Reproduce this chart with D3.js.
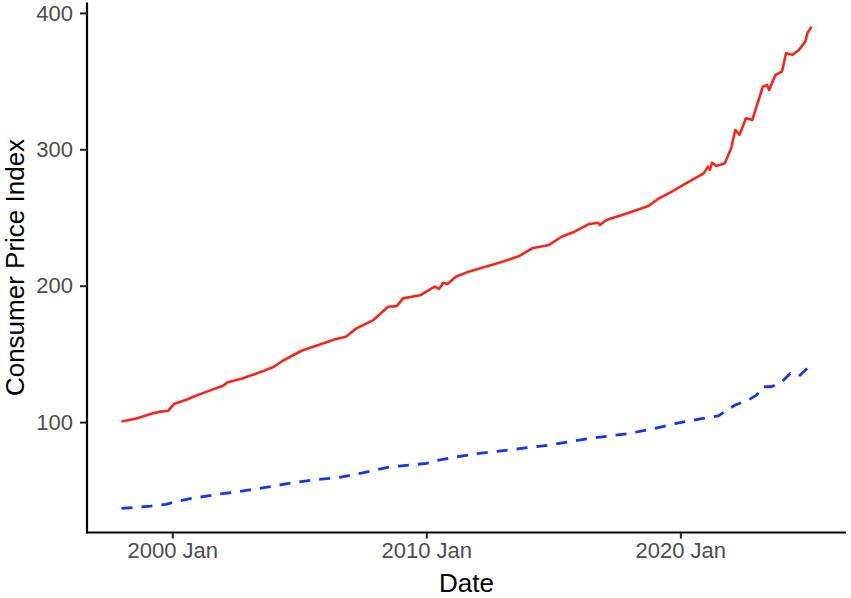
<!DOCTYPE html>
<html>
<head>
<meta charset="utf-8">
<script src="https://cdn.jsdelivr.net/npm/d3@7"></script>
<style>
  body { margin: 0; background: #fff; }
  svg { display: block; }
</style>
</head>
<body>
<svg id="chart" width="851" height="598"></svg>
<script>
// CPI series (month, value)
const redDates = ["1998-01","1998-08","1999-04","1999-07","1999-11","2000-02","2000-07","2000-11","2001-06","2002-01","2002-03","2002-10","2003-08","2004-01","2004-05","2005-02","2005-10","2006-06","2006-11","2007-04","2007-12","2008-07","2008-11","2009-02","2009-10","2010-05","2010-07","2010-09","2010-11","2011-03","2011-09","2012-05","2013-01","2013-09","2014-03","2014-11","2015-05","2015-11","2016-06","2016-10","2016-11","2017-02","2017-08","2018-02","2018-10","2019-03","2019-09","2020-01","2020-08","2020-12","2021-02","2021-03","2021-04","2021-06","2021-10","2022-01","2022-03","2022-05","2022-08","2022-11","2023-04","2023-06","2023-07","2023-10","2024-01","2024-03","2024-06","2024-09","2024-12","2025-01","2025-03"];
const redValues = [100.5,102.7,106.5,107.5,108.3,113.5,116,118.6,122.7,126.6,129,132,137.4,140.6,144.8,152.3,156.5,160.7,162.6,168.7,174.8,184.6,185,190.7,193,199.3,197.6,202.2,201.2,206.6,210.3,213.9,217.6,221.8,227.4,229.9,235.9,239.6,245.3,246.2,244.5,248.2,251.1,254.3,258.5,264.1,269,272.6,278.8,282.4,287.3,284.9,290.2,287.8,289.8,300.8,314.2,310.6,322.8,321.6,346,347.2,343.6,354.6,357,370.5,369.3,372.9,379,385.1,390];

const blueDates = ["1998-01","1999-03","1999-10","2000-02","2000-10","2001-11","2002-08","2003-09","2004-08","2005-07","2006-08","2007-07","2008-08","2008-12","2010-01","2010-07","2011-01","2012-02","2013-10","2014-11","2016-06","2018-01","2019-01","2019-11","2020-11","2021-07","2021-11","2022-03","2022-09","2023-01","2023-04","2023-08","2024-01","2024-05","2024-09","2025-01","2025-03"];
const blueValues = [36.7,38.4,39.6,41.5,44,47.2,48.9,52.1,55,57.4,59.4,62.8,67.2,67.7,69.7,72.1,74,77,80.7,83.1,88,91.7,95.4,99,102.5,104.5,108.8,112.5,116.1,119.8,125.9,125.9,129.6,135.7,133.7,139.4,141.8];

const yTicks = [100, 200, 300, 400];
const xTicks = ["2000-01", "2010-01", "2020-01"];

const parse = d3.timeParse("%Y-%m");
const red = redDates.map((d, i) => ({date: parse(d), value: redValues[i]}));
const blue = blueDates.map((d, i) => ({date: parse(d), value: blueValues[i]}));

const svg = d3.select("#chart");
const mLeft = 87, mRight = 846, mTop = 2.5, mBottom = 532.5;

// ggplot style 5% expansion
const allDates = red.concat(blue).map(d => d.date);
const allVals = redValues.concat(blueValues);
const t0 = d3.min(allDates), t1 = d3.max(allDates);
const span = t1 - t0;
const x = d3.scaleTime()
            .domain([new Date(+t0 - span * 0.05), new Date(+t1 + span * 0.05)])
            .range([mLeft, mRight]);
const v0 = d3.min(allVals), v1 = d3.max(allVals);
const vs = v1 - v0;
const y = d3.scaleLinear()
            .domain([v0 - vs * 0.05, v1 + vs * 0.05])
            .range([mBottom, mTop]);

const line = d3.line().x(d => x(d.date)).y(d => y(d.value));

svg.append("path").datum(red)
   .attr("d", line)
   .attr("fill", "none")
   .attr("stroke", "#f7261b")
   .attr("stroke-width", 2.6)
   .attr("stroke-linejoin", "round");

svg.append("path").datum(blue)
   .attr("d", line)
   .attr("fill", "none")
   .attr("stroke", "#1436ee")
   .attr("stroke-width", 2.8)
   .attr("stroke-dasharray", "11,9")
   .attr("stroke-linejoin", "round");

// axes
const xAxis = d3.axisBottom(x)
                .tickValues(xTicks.map(parse))
                .tickFormat(d3.timeFormat("%Y %b"))
                .tickSize(6).tickSizeOuter(0).tickPadding(4);
const yAxis = d3.axisLeft(y)
                .tickValues(yTicks)
                .tickSize(7).tickSizeOuter(0).tickPadding(7);

const gx = svg.append("g").attr("transform", `translate(0,${mBottom})`).call(xAxis);
const gy = svg.append("g").attr("transform", `translate(${mLeft},0)`).call(yAxis);

[gx, gy].forEach(g => {
  g.select(".domain").attr("stroke", "#000").attr("stroke-width", 2.2);
  g.selectAll(".tick line").attr("stroke", "#222").attr("stroke-width", 2);
  g.selectAll(".tick text")
   .attr("fill", "#4d4d4d")
   .style("font-family", "'Liberation Sans', Arial, sans-serif")
   .style("font-size", "22px");
});
gx.select(".domain").attr("d", `M${mLeft - 1},0H${mRight}`);
gy.select(".domain").attr("d", `M0,${mTop}V${mBottom + 1}`);

svg.append("text")
   .attr("x", (mLeft + mRight) / 2)
   .attr("y", 592)
   .attr("text-anchor", "middle")
   .style("font-family", "'Liberation Sans', Arial, sans-serif")
   .style("font-size", "26px")
   .text("Date");

svg.append("text")
   .attr("transform", `translate(24,${(mTop + mBottom) / 2}) rotate(-90)`)
   .attr("text-anchor", "middle")
   .style("font-family", "'Liberation Sans', Arial, sans-serif")
   .style("font-size", "26px")
   .text("Consumer Price Index");
</script>
</body>
</html>
